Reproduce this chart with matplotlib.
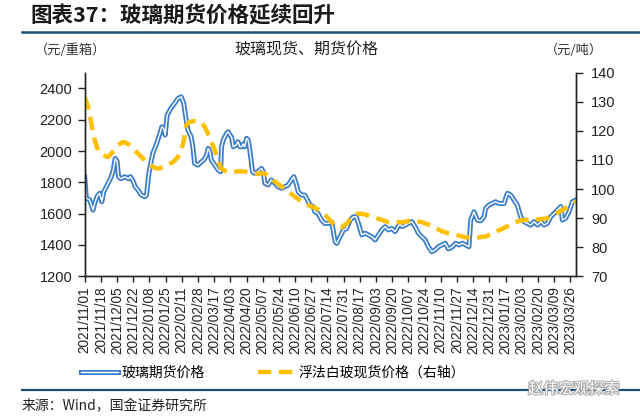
import matplotlib
matplotlib.use('Agg')
import matplotlib.pyplot as plt
import matplotlib.patheffects as pe
from matplotlib.lines import Line2D
import pandas as pd

plt.rcParams['font.family'] = ['Liberation Sans', 'Noto Sans CJK SC', 'DejaVu Sans']
CJK = ['Noto Sans CJK SC', 'DejaVu Sans']

# ---- data (days after 2021-11-01) ----
start = pd.Timestamp('2021-11-01')

# glass futures, yuan / heavy box (left axis)
fut_day = [0, 1.7, 5, 8.7, 11, 13, 15.7, 18, 20, 21, 24.5, 28, 30, 32, 34, 35.6, 38, 42, 46, 48,
           50.7, 53, 56, 59.4, 63, 65, 66.5, 68, 71.5, 75, 78.5, 81, 83, 84.5, 86.7, 90.5, 94.4, 98,
           101.4, 104, 106.6, 108.4, 111.8, 113.6, 115.4, 119, 122.4, 125, 128, 129.7, 131.5, 133,
           136.7, 140.2, 142.7, 143.7, 145.5, 149, 150.7, 152.5, 154.2, 156, 159, 161, 163, 164.7,
           166.5, 168, 170, 171.7, 173.4, 175.2, 176.2, 178.7, 182, 185.7, 187.5, 189.2, 192.7, 196,
           199.7, 203, 206.7, 210, 213.7, 217, 219.6, 222, 224.2, 227.7, 231, 233, 236.6, 240, 241.7,
           245, 248.7, 252.2, 256, 259.5, 263, 264.7, 268.3, 271.8, 275, 278.8, 282.2, 285, 287.5,
           291, 294.5, 298, 301.5, 305, 308.5, 312, 315.5, 319, 322.5, 326, 328, 331.3, 333, 336.5,
           340, 343.5, 347, 350.6, 354, 357.6, 361, 364.6, 368, 371.6, 375, 378.6, 382, 385.5,
           389.6, 393, 396.6, 400, 403.6, 405.4, 408.9, 412.4, 416, 419.4, 421.1, 424.6, 428,
           431.6, 435, 440.4, 443.9, 447.4, 450.9, 454.4, 457.9, 461.4, 465, 468.4, 472, 475.5,
           479, 482.5, 486, 489.5, 493, 496.5, 500, 501.7, 505, 508.7, 512.2, 515.7]
fut_val = [1836, 1698, 1690, 1623, 1676, 1710, 1730, 1676, 1740, 1751, 1794, 1836, 1878, 1953, 1935,
           1836, 1823, 1836, 1823, 1836, 1810, 1772, 1751, 1719, 1708, 1719, 1810, 1878, 1985, 2038,
           2102, 2155, 2145, 2102, 2230, 2272, 2304, 2336, 2346, 2304, 2198, 2134, 2091, 2027, 1921,
           1910, 1931, 1942, 1974, 2017, 1995, 1942, 1910, 1878, 1868, 2027, 2070, 2113, 2123, 2102,
           2091, 2027, 2038, 2059, 2027, 2027, 2045, 2027, 2081, 2070, 2006, 1921, 1868, 1857, 1868,
           1889, 1868, 1794, 1783, 1815, 1794, 1772, 1762, 1772, 1783, 1815, 1836, 1794, 1740, 1719,
           1719, 1698, 1655, 1645, 1612, 1602, 1559, 1538, 1538, 1545, 1421, 1410, 1453, 1496, 1505,
           1559, 1580, 1580, 1538, 1464, 1475, 1464, 1453, 1432, 1464, 1496, 1517, 1496, 1506, 1485,
           1506, 1538, 1517, 1527, 1538, 1549, 1517, 1474, 1453, 1432, 1389, 1357, 1368, 1389, 1400,
           1411, 1375, 1385, 1411, 1400, 1411, 1400, 1389, 1559, 1612, 1559, 1555, 1580, 1634, 1655,
           1665, 1676, 1665, 1665, 1730, 1719, 1687, 1655, 1580, 1548, 1538, 1527, 1549, 1527, 1549,
           1527, 1538, 1580, 1602, 1623, 1645, 1559, 1570, 1612, 1676, 1687]

# float white glass spot, yuan / ton (right axis)
spot_day = [0, 3.5, 7, 10.5, 14, 19.2, 24.5, 29.7, 35, 40.2, 45.5, 50.7, 56, 61.2, 66.5, 71.7, 77,
            82.2, 87.4, 92.7, 98, 101.4, 104.2, 106.6, 110, 115.4, 120.6, 126, 131.5, 136.7, 140.2,
            143.7, 149, 156, 163, 170, 177, 182.2, 187.5, 192.7, 198, 205, 212, 219, 226, 233, 240,
            247, 254, 259.5, 264.7, 270, 275.3, 280.5, 285.8, 291, 298, 305, 312, 319, 326, 333,
            340, 347, 354, 361, 368, 375, 382, 386, 393, 400, 407, 414, 421, 428, 435, 442, 449,
            456, 463, 470, 477, 484, 491, 498, 505, 512, 515.7]
spot_val = [131.7, 128.3, 122.6, 116.8, 113.3, 111.6, 111, 112.8, 115.1, 116.2, 115.5, 113.9, 112.2,
            110.5, 108.8, 107.6, 107, 107.5, 108.2, 109.3, 111, 113.3, 116.8, 122, 123.1, 123.4,
            123.2, 121.5, 117.4, 113.3, 109.3, 107, 105.9, 105.9, 106.1, 105.9, 105.5, 105.2, 105.5,
            104.7, 103, 101.3, 99.6, 97.8, 96.1, 94.7, 93.8, 92.7, 90.6, 88.6, 86.9, 86.9, 88.1,
            90.3, 91.5, 91.5, 90.9, 90.1, 89.4, 88.6, 88.6, 88.6, 89, 89, 88.6, 87.8, 86.7, 85.5,
            84.8, 84.6, 84, 83.4, 83.4, 83.4, 83.7, 84.6, 85.8, 86.9, 88.1, 89, 89.4, 89.4, 89.6,
            89.8, 90.9, 92.1, 93.4, 95, 95.5]

fut_x = start + pd.to_timedelta(fut_day, unit='D')
spot_x = start + pd.to_timedelta(spot_day, unit='D')
tick_dates = pd.date_range(start, periods=31, freq='17D')

# ---- figure ----
fig = plt.figure(figsize=(6.4, 4.17), dpi=100)
ax = fig.add_axes([84.7 / 640, 1 - 276.3 / 417, (576 - 84.7) / 640, (276.3 - 72.7) / 417])
ax2 = ax.twinx()

blue = '#3c7fc8'
gold = '#FFC000'
ax.plot(fut_x, fut_val, color='white', lw=1.0, solid_joinstyle='round',
        path_effects=[pe.Stroke(linewidth=3.6, foreground=blue), pe.Normal()],
        label='玻璃期货价格')
ax2.plot(spot_x, spot_val, color=gold, lw=3.2, dashes=(3, 1.7),
         label='浮法白玻现货价格（右轴）')

ax.set_ylim(1200, 2500)
ax.set_yticks(range(1200, 2401, 200))
ax2.set_ylim(70, 140)
ax2.set_yticks(range(70, 141, 10))
ax.set_xlim(start, start + pd.Timedelta(days=516))
ax.set_xticks(tick_dates)
ax.set_xticklabels([d.strftime('%Y/%m/%d') for d in tick_dates], rotation=90)

for a in (ax, ax2):
    a.spines['top'].set_visible(False)
    for s in a.spines.values():
        s.set_color('#222222')
        s.set_linewidth(1)
ax.tick_params(axis='x', direction='out', length=4, width=1, labelsize=9.8, pad=3, colors='#222222')
ax.tick_params(axis='y', direction='out', length=5, width=1, labelsize=10.5, pad=4, colors='#222222')
ax2.tick_params(axis='y', direction='out', length=5, width=1, labelsize=10.5, pad=6, colors='#222222')

# ---- texts ----
fig.text(30 / 640, 1 - 16 / 417, '图表37：玻璃期货价格延续回升', family=CJK, fontsize=15.5,
         fontweight='bold', style='italic', color='#1a1a1a', va='center')
fig.add_artist(Line2D([22 / 640, 1], [1 - 32 / 417] * 2, color='#1f4e79', lw=1.8))
fig.text(35 / 640, 1 - 50 / 417, '（元/重箱）', family=CJK, fontsize=9.5, color='#333333', va='center')
fig.text(306 / 640, 1 - 50 / 417, '玻璃现货、期货价格', family=CJK, fontsize=11.5, color='#222222',
         va='center', ha='center')
fig.text(545 / 640, 1 - 50 / 417, '（元/吨）', family=CJK, fontsize=9.5, color='#333333', va='center')

h1, l1 = ax.get_legend_handles_labels()
h2, l2 = ax2.get_legend_handles_labels()
fig.legend(h1 + h2, l1 + l2, loc='center', bbox_to_anchor=(273 / 640, 1 - 373 / 417), ncol=2,
           frameon=False, prop={'family': CJK, 'size': 10}, handlelength=2.6,
           handletextpad=0.3, columnspacing=3.8)

fig.add_artist(Line2D([22 / 640, 1], [1 - 390 / 417] * 2, color='#1f4e79', lw=1.6))
fig.text(528 / 640, 1 - 389 / 417, '赵伟宏观探索', family=CJK, fontsize=11, color='white',
         va='center', path_effects=[pe.withStroke(linewidth=1.4, foreground='#a8a8a8')])
fig.text(22 / 640, 1 - 406 / 417, '来源：Wind，国金证券研究所', family=CJK, fontsize=10,
         color='#222222', va='center')

fig.savefig('out.png', dpi=100)
